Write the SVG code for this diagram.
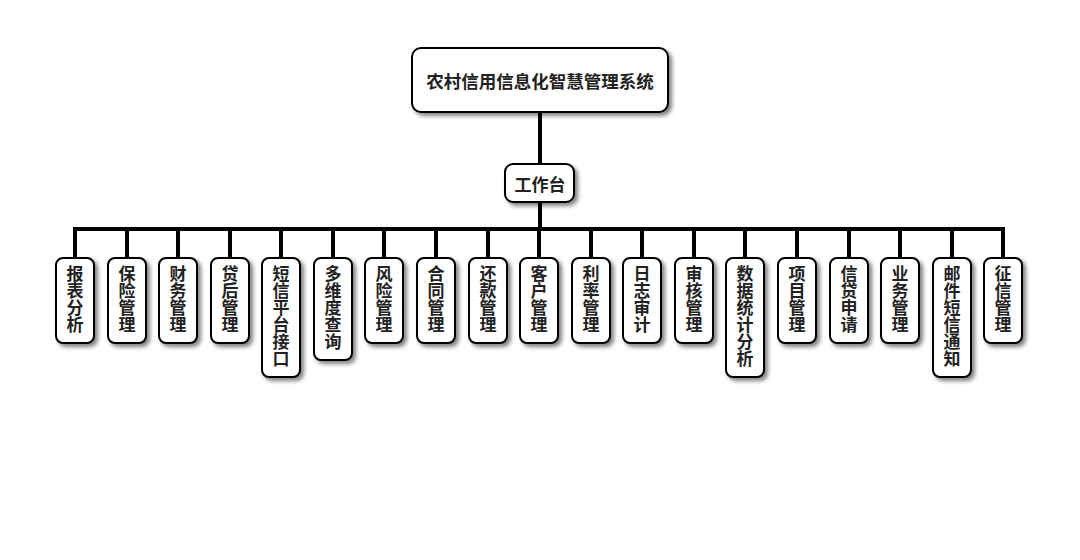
<svg xmlns="http://www.w3.org/2000/svg" width="1080" height="560" viewBox="0 0 1080 560">
<defs>
<filter id="sh" x="-30%" y="-30%" width="160%" height="160%">
<feGaussianBlur in="SourceAlpha" stdDeviation="2"/>
<feOffset dx="3" dy="3" result="o"/>
<feComponentTransfer><feFuncA type="linear" slope="0.5"/></feComponentTransfer>
<feMerge><feMergeNode/><feMergeNode in="SourceGraphic"/></feMerge>
</filter>
<style>
.box{fill:#fff;stroke:#000;stroke-width:2;filter:url(#sh)}
.t{font-family:"Noto Sans CJK SC","Liberation Sans",sans-serif;font-weight:bold;fill:#222;text-anchor:middle;dominant-baseline:central}
.v{font-family:"Noto Sans CJK SC","Liberation Sans",sans-serif;font-weight:bold;fill:#222;font-size:17px;writing-mode:vertical-rl;text-orientation:upright;text-anchor:start}
.ln{stroke:#000;stroke-width:4;fill:none}
</style>
</defs>
<rect width="1080" height="560" fill="#fff"/>
<g id="connectors">
<line class="ln" x1="540" y1="112" x2="540" y2="165"/>
<line class="ln" x1="540" y1="202" x2="540" y2="229"/>
<polyline class="ln" points="75,258 75,229 1003,229 1003,258"/>
<path class="ln" d="M127,229V258M178,229V258M230,229V258M281,229V258M333,229V258M384,229V258M436,229V258M488,229V258M539,229V258M591,229V258M642,229V258M694,229V258M745,229V258M797,229V258M849,229V258M900,229V258M952,229V258"/>
</g>
<g id="root"><rect class="box" x="412" y="48" width="256" height="64" rx="9"/><text class="t" x="540" y="80" font-size="17.5">农村信用信息化智慧管理系统</text></g>
<g id="workbench"><rect class="box" x="505" y="164" width="69" height="38" rx="8"/><text class="t" x="540" y="183" font-size="17">工作台</text></g>
<g id="n1"><rect class="box" x="56" y="258" width="38" height="85" rx="7"/><text class="v" x="75" y="265">报表分析</text></g>
<g id="n2"><rect class="box" x="108" y="258" width="38" height="85" rx="7"/><text class="v" x="127" y="265">保险管理</text></g>
<g id="n3"><rect class="box" x="159" y="258" width="38" height="85" rx="7"/><text class="v" x="178" y="265">财务管理</text></g>
<g id="n4"><rect class="box" x="211" y="258" width="38" height="85" rx="7"/><text class="v" x="230" y="265">贷后管理</text></g>
<g id="n5"><rect class="box" x="262" y="258" width="38" height="119" rx="7"/><text class="v" x="281" y="265">短信平台接口</text></g>
<g id="n6"><rect class="box" x="314" y="258" width="38" height="102" rx="7"/><text class="v" x="333" y="265">多维度查询</text></g>
<g id="n7"><rect class="box" x="365" y="258" width="38" height="85" rx="7"/><text class="v" x="384" y="265">风险管理</text></g>
<g id="n8"><rect class="box" x="417" y="258" width="38" height="85" rx="7"/><text class="v" x="436" y="265">合同管理</text></g>
<g id="n9"><rect class="box" x="469" y="258" width="38" height="85" rx="7"/><text class="v" x="488" y="265">还款管理</text></g>
<g id="n10"><rect class="box" x="520" y="258" width="38" height="85" rx="7"/><text class="v" x="539" y="265">客户管理</text></g>
<g id="n11"><rect class="box" x="572" y="258" width="38" height="85" rx="7"/><text class="v" x="591" y="265">利率管理</text></g>
<g id="n12"><rect class="box" x="623" y="258" width="38" height="85" rx="7"/><text class="v" x="642" y="265">日志审计</text></g>
<g id="n13"><rect class="box" x="675" y="258" width="38" height="85" rx="7"/><text class="v" x="694" y="265">审核管理</text></g>
<g id="n14"><rect class="box" x="726" y="258" width="38" height="119" rx="7"/><text class="v" x="745" y="265">数据统计分析</text></g>
<g id="n15"><rect class="box" x="778" y="258" width="38" height="85" rx="7"/><text class="v" x="797" y="265">项目管理</text></g>
<g id="n16"><rect class="box" x="830" y="258" width="38" height="85" rx="7"/><text class="v" x="849" y="265">信贷申请</text></g>
<g id="n17"><rect class="box" x="881" y="258" width="38" height="85" rx="7"/><text class="v" x="900" y="265">业务管理</text></g>
<g id="n18"><rect class="box" x="933" y="258" width="38" height="119" rx="7"/><text class="v" x="952" y="265">邮件短信通知</text></g>
<g id="n19"><rect class="box" x="984" y="258" width="38" height="85" rx="7"/><text class="v" x="1003" y="265">征信管理</text></g>
</svg>
